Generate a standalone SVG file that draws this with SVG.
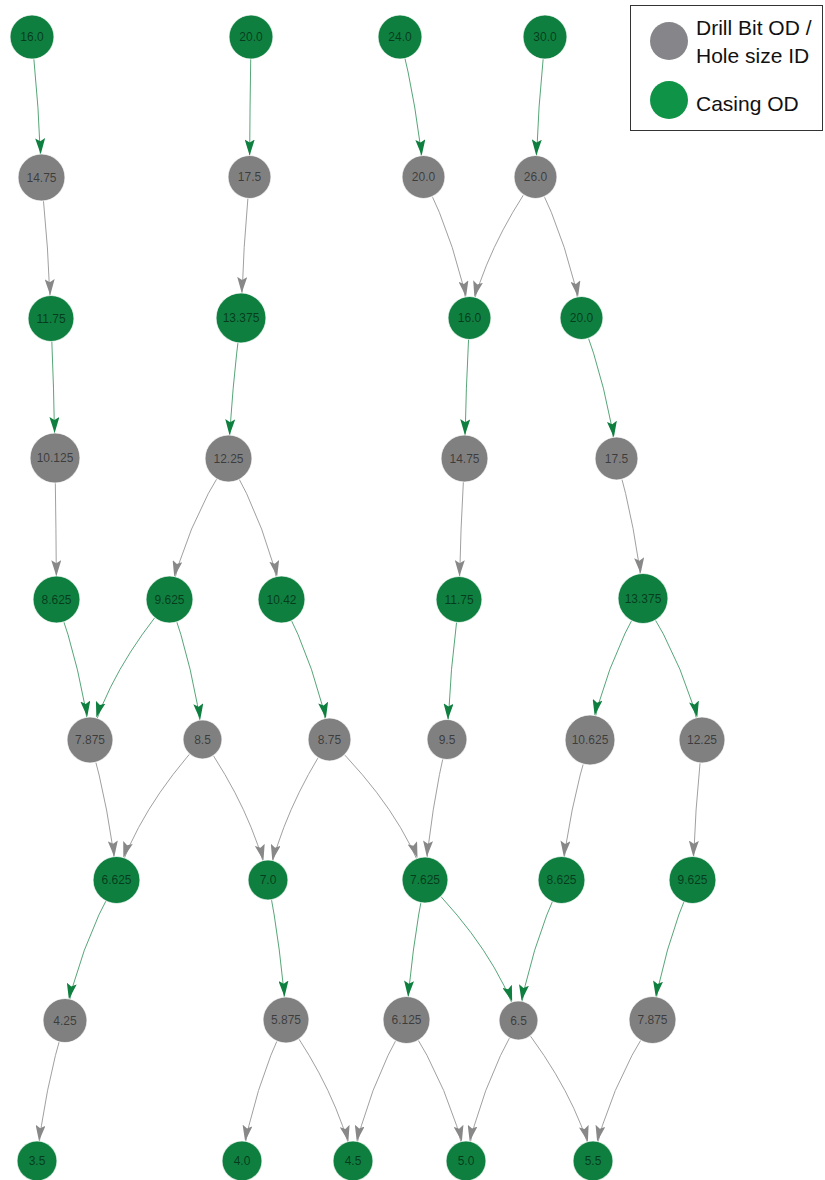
<svg xmlns="http://www.w3.org/2000/svg" width="825" height="1180" viewBox="0 0 825 1180">
<style>
.gn{fill:#0e7f3f;stroke:#fff;stroke-width:1.2;stroke-opacity:0.7}
.yn{fill:#808080;stroke:#fff;stroke-width:1.2;stroke-opacity:0.7}
.lb{font-family:"Liberation Sans",Arial,sans-serif;font-size:12px;fill:#000;fill-opacity:0.55;text-anchor:middle}
.ge{fill:none;stroke:#0e7f3f;stroke-width:1;stroke-opacity:0.7}
.ye{fill:none;stroke:#a0a0a0;stroke-width:1}
.lg{font-family:"Liberation Sans",Arial,sans-serif;font-size:21px;fill:#111}
</style>
<defs>
<path id="ah" d="M0,0 L16,5 L0,10 L3,5 Z"/>
<marker id="ga20" markerUnits="userSpaceOnUse" viewBox="0 0 16 10" markerWidth="16" markerHeight="10" refX="36" refY="5" orient="auto"><use href="#ah" fill="#0e7f3f"/></marker>
<marker id="ga22" markerUnits="userSpaceOnUse" viewBox="0 0 16 10" markerWidth="16" markerHeight="10" refX="37.5" refY="5" orient="auto"><use href="#ah" fill="#0e7f3f"/></marker>
<marker id="ga23" markerUnits="userSpaceOnUse" viewBox="0 0 16 10" markerWidth="16" markerHeight="10" refX="39.3" refY="5" orient="auto"><use href="#ah" fill="#0e7f3f"/></marker>
<marker id="ga25" markerUnits="userSpaceOnUse" viewBox="0 0 16 10" markerWidth="16" markerHeight="10" refX="41" refY="5" orient="auto"><use href="#ah" fill="#0e7f3f"/></marker>
<marker id="ya20" markerUnits="userSpaceOnUse" viewBox="0 0 16 10" markerWidth="16" markerHeight="10" refX="36" refY="5" orient="auto"><use href="#ah" fill="#888"/></marker>
<marker id="ya22" markerUnits="userSpaceOnUse" viewBox="0 0 16 10" markerWidth="16" markerHeight="10" refX="37.5" refY="5" orient="auto"><use href="#ah" fill="#888"/></marker>
<marker id="ya23" markerUnits="userSpaceOnUse" viewBox="0 0 16 10" markerWidth="16" markerHeight="10" refX="39.3" refY="5" orient="auto"><use href="#ah" fill="#888"/></marker>
<marker id="ya25" markerUnits="userSpaceOnUse" viewBox="0 0 16 10" markerWidth="16" markerHeight="10" refX="41" refY="5" orient="auto"><use href="#ah" fill="#888"/></marker>
</defs>
<rect width="825" height="1180" fill="#fff"/>
<g id="connectors">
<path class="ge" marker-end="url(#ga23)" d="M32,37 Q39.1,107.3 41.5,177.5"/>
<path class="ge" marker-end="url(#ga22)" d="M251,37 Q249.9,107 249.5,177"/>
<path class="ge" marker-end="url(#ga22)" d="M400,37 Q417.6,107 423.5,177"/>
<path class="ge" marker-end="url(#ga22)" d="M545,37 Q537.9,107 535.5,177"/>
<path class="ye" marker-end="url(#ya23)" d="M41.5,177.5 Q48.6,248 51,318.5"/>
<path class="ye" marker-end="url(#ya25)" d="M249.5,177 Q243.1,247.5 241,318"/>
<path class="ye" marker-end="url(#ya22)" d="M423.5,177 Q458,247.5 469.5,318"/>
<path class="ye" marker-end="url(#ya22)" d="M535.5,177 Q486,247.5 469.5,318"/>
<path class="ye" marker-end="url(#ya22)" d="M535.5,177 Q570,247.5 581.5,318"/>
<path class="ge" marker-end="url(#ga25)" d="M51,318.5 Q54,388.3 55,458"/>
<path class="ge" marker-end="url(#ga23)" d="M241,318 Q231.6,388.3 228.5,458.5"/>
<path class="ge" marker-end="url(#ga23)" d="M469.5,318 Q465.8,388.3 464.5,458.5"/>
<path class="ge" marker-end="url(#ga22)" d="M581.5,318 Q607.8,388.3 616.5,458.5"/>
<path class="ye" marker-end="url(#ya23)" d="M55,458 Q56.1,528.8 56.5,599.5"/>
<path class="ye" marker-end="url(#ya23)" d="M228.5,458.5 Q184.2,529 169.5,599.5"/>
<path class="ye" marker-end="url(#ya23)" d="M228.5,458.5 Q268.2,529 281.5,599.5"/>
<path class="ye" marker-end="url(#ya23)" d="M464.5,458.5 Q460.4,529 459,599.5"/>
<path class="ye" marker-end="url(#ya25)" d="M616.5,458.5 Q636.4,528.5 643,598.5"/>
<path class="ge" marker-end="url(#ga23)" d="M56.5,599.5 Q81.6,669.8 90,740"/>
<path class="ge" marker-end="url(#ga23)" d="M169.5,599.5 Q109.9,669.8 90,740"/>
<path class="ge" marker-end="url(#ga20)" d="M169.5,599.5 Q194.3,669.5 202.5,739.5"/>
<path class="ge" marker-end="url(#ga22)" d="M281.5,599.5 Q317.5,669.5 329.5,739.5"/>
<path class="ge" marker-end="url(#ga20)" d="M459,599.5 Q450,669.5 447,739.5"/>
<path class="ge" marker-end="url(#ga25)" d="M643,598.5 Q603.3,669.3 590,740"/>
<path class="ge" marker-end="url(#ga23)" d="M643,598.5 Q687.3,669.3 702,740"/>
<path class="ye" marker-end="url(#ya23)" d="M90,740 Q109.9,810 116.5,880"/>
<path class="ye" marker-end="url(#ya23)" d="M202.5,739.5 Q138,809.8 116.5,880"/>
<path class="ye" marker-end="url(#ya20)" d="M202.5,739.5 Q251.6,809.8 268,880"/>
<path class="ye" marker-end="url(#ya20)" d="M329.5,739.5 Q283.4,809.8 268,880"/>
<path class="ye" marker-end="url(#ya23)" d="M329.5,739.5 Q401.1,809.8 425,880"/>
<path class="ye" marker-end="url(#ya23)" d="M447,739.5 Q430.5,809.8 425,880"/>
<path class="ye" marker-end="url(#ya23)" d="M590,740 Q568.6,810 561.5,880"/>
<path class="ye" marker-end="url(#ya23)" d="M702,740 Q694.9,810 692.5,880"/>
<path class="ge" marker-end="url(#ga22)" d="M116.5,880 Q77.9,950.3 65,1020.5"/>
<path class="ge" marker-end="url(#ga23)" d="M268,880 Q281.5,950 286,1020"/>
<path class="ge" marker-end="url(#ga23)" d="M425,880 Q411.1,950 406.5,1020"/>
<path class="ge" marker-end="url(#ga20)" d="M425,880 Q495.1,950.3 518.5,1020.5"/>
<path class="ge" marker-end="url(#ga20)" d="M561.5,880 Q529.3,950.3 518.5,1020.5"/>
<path class="ge" marker-end="url(#ga23)" d="M692.5,880 Q662.5,950 652.5,1020"/>
<path class="ye" marker-end="url(#ya20)" d="M65,1020.5 Q44,1090.8 37,1161"/>
<path class="ye" marker-end="url(#ya20)" d="M286,1020 Q253,1090.5 242,1161"/>
<path class="ye" marker-end="url(#ya20)" d="M286,1020 Q336.3,1090.5 353,1161"/>
<path class="ye" marker-end="url(#ya20)" d="M406.5,1020 Q366.4,1090.5 353,1161"/>
<path class="ye" marker-end="url(#ya20)" d="M406.5,1020 Q451.1,1090.5 466,1161"/>
<path class="ye" marker-end="url(#ya20)" d="M518.5,1020.5 Q479.1,1090.8 466,1161"/>
<path class="ye" marker-end="url(#ya20)" d="M518.5,1020.5 Q574.4,1090.8 593,1161"/>
<path class="ye" marker-end="url(#ya20)" d="M652.5,1020 Q607.9,1090.5 593,1161"/>
</g>
<g id="n16_0a"><circle class="gn" cx="32" cy="37" r="22"/><text class="lb" x="32" y="41">16.0</text></g>
<g id="n20_0a"><circle class="gn" cx="251" cy="37" r="22"/><text class="lb" x="251" y="41">20.0</text></g>
<g id="n24_0"><circle class="gn" cx="400" cy="37" r="22"/><text class="lb" x="400" y="41">24.0</text></g>
<g id="n30_0"><circle class="gn" cx="545" cy="37" r="22"/><text class="lb" x="545" y="41">30.0</text></g>
<g id="n14_75a"><circle class="yn" cx="41.5" cy="177.5" r="23.5"/><text class="lb" x="41.5" y="181.5">14.75</text></g>
<g id="n17_5a"><circle class="yn" cx="249.5" cy="177" r="21.5"/><text class="lb" x="249.5" y="181">17.5</text></g>
<g id="n20_0b"><circle class="yn" cx="423.5" cy="177" r="21.5"/><text class="lb" x="423.5" y="181">20.0</text></g>
<g id="n26_0"><circle class="yn" cx="535.5" cy="177" r="21.5"/><text class="lb" x="535.5" y="181">26.0</text></g>
<g id="n11_75a"><circle class="gn" cx="51" cy="318.5" r="23"/><text class="lb" x="51" y="322.5">11.75</text></g>
<g id="n13_375a"><circle class="gn" cx="241" cy="318" r="25"/><text class="lb" x="241" y="322">13.375</text></g>
<g id="n16_0b"><circle class="gn" cx="469.5" cy="318" r="21.5"/><text class="lb" x="469.5" y="322">16.0</text></g>
<g id="n20_0c"><circle class="gn" cx="581.5" cy="318" r="21.5"/><text class="lb" x="581.5" y="322">20.0</text></g>
<g id="n10_125"><circle class="yn" cx="55" cy="458" r="25"/><text class="lb" x="55" y="462">10.125</text></g>
<g id="n12_25a"><circle class="yn" cx="228.5" cy="458.5" r="23.5"/><text class="lb" x="228.5" y="462.5">12.25</text></g>
<g id="n14_75b"><circle class="yn" cx="464.5" cy="458.5" r="23.5"/><text class="lb" x="464.5" y="462.5">14.75</text></g>
<g id="n17_5b"><circle class="yn" cx="616.5" cy="458.5" r="21.5"/><text class="lb" x="616.5" y="462.5">17.5</text></g>
<g id="n8_625a"><circle class="gn" cx="56.5" cy="599.5" r="23.5"/><text class="lb" x="56.5" y="603.5">8.625</text></g>
<g id="n9_625a"><circle class="gn" cx="169.5" cy="599.5" r="23.5"/><text class="lb" x="169.5" y="603.5">9.625</text></g>
<g id="n10_42"><circle class="gn" cx="281.5" cy="599.5" r="23.5"/><text class="lb" x="281.5" y="603.5">10.42</text></g>
<g id="n11_75b"><circle class="gn" cx="459" cy="599.5" r="23"/><text class="lb" x="459" y="603.5">11.75</text></g>
<g id="n13_375b"><circle class="gn" cx="643" cy="598.5" r="25"/><text class="lb" x="643" y="602.5">13.375</text></g>
<g id="n7_875a"><circle class="yn" cx="90" cy="740" r="23"/><text class="lb" x="90" y="744">7.875</text></g>
<g id="n8_5"><circle class="yn" cx="202.5" cy="739.5" r="19.5"/><text class="lb" x="202.5" y="743.5">8.5</text></g>
<g id="n8_75"><circle class="yn" cx="329.5" cy="739.5" r="21.5"/><text class="lb" x="329.5" y="743.5">8.75</text></g>
<g id="n9_5"><circle class="yn" cx="447" cy="739.5" r="20"/><text class="lb" x="447" y="743.5">9.5</text></g>
<g id="n10_625"><circle class="yn" cx="590" cy="740" r="25"/><text class="lb" x="590" y="744">10.625</text></g>
<g id="n12_25b"><circle class="yn" cx="702" cy="740" r="23"/><text class="lb" x="702" y="744">12.25</text></g>
<g id="n6_625"><circle class="gn" cx="116.5" cy="880" r="23.5"/><text class="lb" x="116.5" y="884">6.625</text></g>
<g id="n7_0"><circle class="gn" cx="268" cy="880" r="20"/><text class="lb" x="268" y="884">7.0</text></g>
<g id="n7_625"><circle class="gn" cx="425" cy="880" r="23"/><text class="lb" x="425" y="884">7.625</text></g>
<g id="n8_625b"><circle class="gn" cx="561.5" cy="880" r="23.5"/><text class="lb" x="561.5" y="884">8.625</text></g>
<g id="n9_625b"><circle class="gn" cx="692.5" cy="880" r="23.5"/><text class="lb" x="692.5" y="884">9.625</text></g>
<g id="n4_25"><circle class="yn" cx="65" cy="1020.5" r="22"/><text class="lb" x="65" y="1024.5">4.25</text></g>
<g id="n5_875"><circle class="yn" cx="286" cy="1020" r="23"/><text class="lb" x="286" y="1024">5.875</text></g>
<g id="n6_125"><circle class="yn" cx="406.5" cy="1020" r="23.5"/><text class="lb" x="406.5" y="1024">6.125</text></g>
<g id="n6_5"><circle class="yn" cx="518.5" cy="1020.5" r="19.5"/><text class="lb" x="518.5" y="1024.5">6.5</text></g>
<g id="n7_875b"><circle class="yn" cx="652.5" cy="1020" r="23.5"/><text class="lb" x="652.5" y="1024">7.875</text></g>
<g id="n3_5"><circle class="gn" cx="37" cy="1161" r="20"/><text class="lb" x="37" y="1165">3.5</text></g>
<g id="n4_0"><circle class="gn" cx="242" cy="1161" r="20"/><text class="lb" x="242" y="1165">4.0</text></g>
<g id="n4_5"><circle class="gn" cx="353" cy="1161" r="20"/><text class="lb" x="353" y="1165">4.5</text></g>
<g id="n5_0"><circle class="gn" cx="466" cy="1161" r="20"/><text class="lb" x="466" y="1165">5.0</text></g>
<g id="n5_5"><circle class="gn" cx="593" cy="1161" r="20"/><text class="lb" x="593" y="1165">5.5</text></g>
<g id="legend">
<rect x="630.5" y="5.5" width="192" height="125" fill="#fff" stroke="#333" stroke-width="1"/>
<circle cx="669" cy="41" r="19" fill="#86868a"/>
<circle cx="669" cy="100" r="19" fill="#0f9447"/>
<text class="lg" x="696" y="35">Drill Bit OD /</text>
<text class="lg" x="696" y="63">Hole size ID</text>
<text class="lg" x="696" y="111">Casing OD</text>
</g>
</svg>
